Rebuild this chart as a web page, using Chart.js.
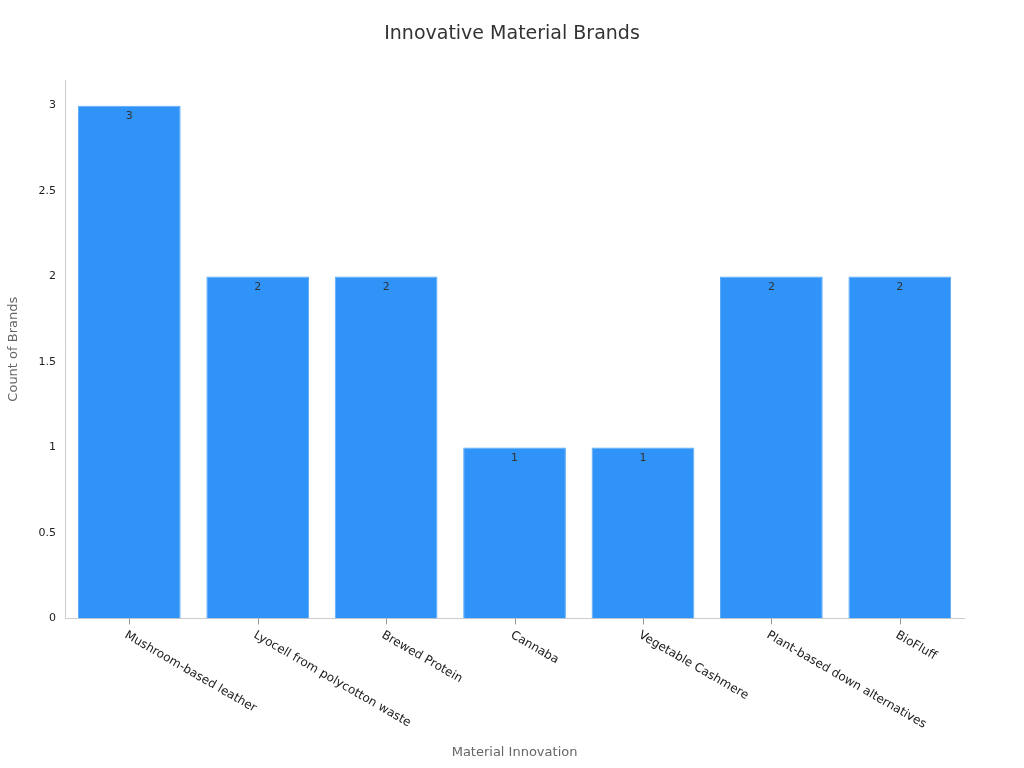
<!DOCTYPE html>
<html>
<head>
<meta charset="utf-8">
<script src="https://cdn.jsdelivr.net/npm/chart.js@4"></script>
<style>
  body { margin: 0; background: #fff; }
  #wrap { width: 1024px; height: 768px; }
</style>
</head>
<body>
<div id="wrap"><canvas id="chart"></canvas></div>
<script>
const chartTitle = "Innovative Material Brands";
const categories = [
  "Mushroom-based leather",
  "Lyocell from polycotton waste",
  "Brewed Protein",
  "Cannaba",
  "Vegetable Cashmere",
  "Plant-based down alternatives",
  "BioFluff"
];
const brandCounts = [3, 2, 2, 1, 1, 2, 2];
const yTicks = [0, 0.5, 1, 1.5, 2, 2.5, 3];

const FONT = "'DejaVu Sans', sans-serif";

// title centred on the whole canvas
const pageTitle = {
  id: "pageTitle",
  afterDraw(chart) {
    const ctx = chart.ctx;
    ctx.save();
    ctx.font = "19px " + FONT;
    ctx.fillStyle = "#333";
    ctx.textAlign = "center";
    ctx.textBaseline = "middle";
    ctx.fillText(chartTitle, chart.width / 2, 34);
    ctx.restore();
  }
};

// value labels just inside the top of each bar
const barLabels = {
  id: "barLabels",
  afterDatasetsDraw(chart) {
    const ctx = chart.ctx;
    const meta = chart.getDatasetMeta(0);
    ctx.save();
    ctx.font = "11px " + FONT;
    ctx.fillStyle = "#333";
    ctx.textAlign = "center";
    ctx.textBaseline = "middle";
    meta.data.forEach((bar, i) => {
      ctx.fillText(String(brandCounts[i]), bar.x, bar.y + 11);
    });
    ctx.restore();
  }
};

// rotated category labels hanging down-right from each tick, plus tick marks
const slantLabels = {
  id: "slantLabels",
  afterDraw(chart) {
    const ctx = chart.ctx;
    const xs = chart.scales.x;
    const base = chart.chartArea.bottom;
    ctx.save();
    ctx.font = "12px " + FONT;
    ctx.fillStyle = "#222";
    ctx.strokeStyle = "#999";
    ctx.lineWidth = 1;
    ctx.textAlign = "left";
    ctx.textBaseline = "middle";
    categories.forEach((c, i) => {
      const x = Math.round(xs.getPixelForValue(i)) + 0.5;
      ctx.beginPath();
      ctx.moveTo(x, base);
      ctx.lineTo(x, base + 6);
      ctx.stroke();
      ctx.save();
      ctx.translate(x - 4, base + 16);
      ctx.rotate(Math.PI / 6);
      ctx.fillText(c, 0, 0);
      ctx.restore();
    });
    ctx.restore();
  }
};

new Chart(document.getElementById("chart"), {
  type: "bar",
  data: {
    labels: categories,
    datasets: [{
      data: brandCounts,
      backgroundColor: "#2f93f8",
      borderColor: "#5aaaf5",
      borderWidth: 1,
      categoryPercentage: 0.8,
      barPercentage: 1.0
    }]
  },
  options: {
    responsive: true,
    maintainAspectRatio: false,
    animation: false,
    layout: { padding: { top: 80, right: 60, left: 6, bottom: 0 } },
    plugins: {
      legend: { display: false },
      tooltip: { enabled: false },
      title: { display: false }
    },
    scales: {
      x: {
        grid: { display: false },
        border: { color: "#ccc" },
        ticks: { display: false },
        title: {
          display: true,
          text: "Material Innovation",
          color: "#666",
          font: { family: FONT, size: 13 },
          padding: { top: 118, bottom: 8 }
        }
      },
      y: {
        min: 0,
        max: 3.15,
        afterBuildTicks(scale) {
          scale.ticks = yTicks.map(v => ({ value: v }));
        },
        grid: { display: false, drawTicks: true, tickLength: 6 },
        border: { color: "#ccc" },
        ticks: { color: "#222", font: { size: 11, family: FONT }, callback: v => String(v) },
        title: {
          display: true,
          text: "Count of Brands",
          color: "#666",
          font: { family: FONT, size: 13 },
          padding: { top: 0, bottom: 14 }
        }
      }
    }
  },
  plugins: [pageTitle, barLabels, slantLabels]
});
</script>
</body>
</html>
